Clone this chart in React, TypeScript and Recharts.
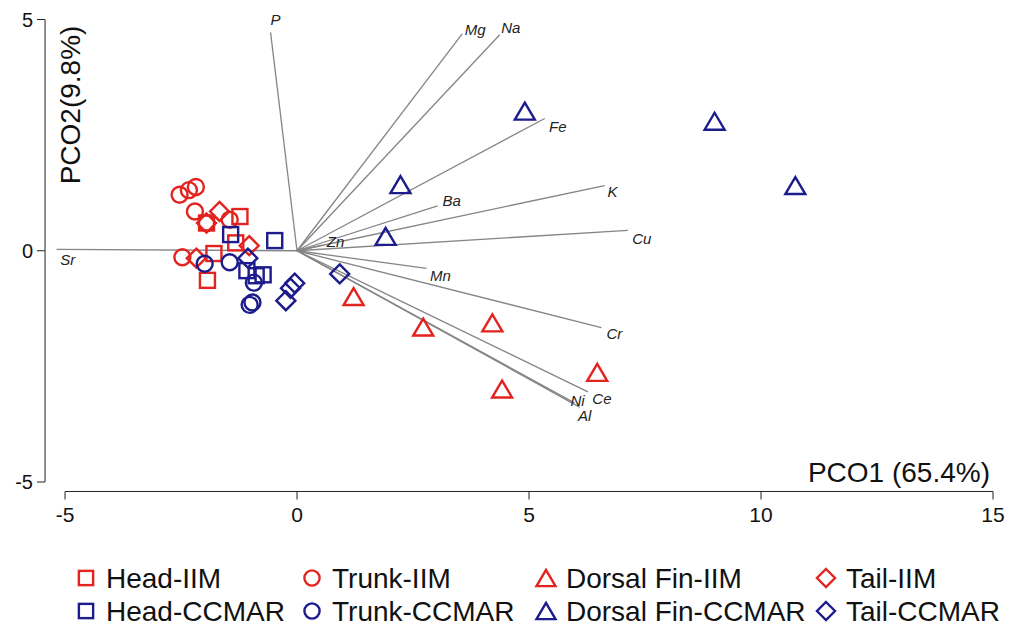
import { ScatterChart, Scatter, XAxis, YAxis, ReferenceLine, ReferenceDot, Customized } from 'recharts';

const RED = '#e3231f';
const BLUE = '#1c1c8c';
const FONT = '"Liberation Sans", Arial, sans-serif';

// sample scores (PCO1, PCO2)
const headIIM = [
  { x: -1.23, y: 0.74 }, { x: -1.32, y: 0.17 }, { x: -1.79, y: -0.06 },
  { x: -1.93, y: -0.64 }, { x: -1.95, y: 0.6 },
];
const trunkIIM = [
  { x: -2.53, y: 1.21 }, { x: -2.33, y: 1.31 }, { x: -2.18, y: 1.38 },
  { x: -2.2, y: 0.85 }, { x: -1.45, y: 0.67 }, { x: -2.47, y: -0.14 }, { x: -1.95, y: 0.6 },
];
const dorsalIIM = [
  { x: 1.22, y: -0.99 }, { x: 2.72, y: -1.65 }, { x: 4.21, y: -1.56 },
  { x: 4.42, y: -2.99 }, { x: 6.47, y: -2.63 },
];
const tailIIM = [
  { x: -1.67, y: 0.85 }, { x: -1.95, y: 0.6 }, { x: -1.03, y: 0.11 }, { x: -2.17, y: -0.16 },
];
const headCCMAR = [
  { x: -1.43, y: 0.35 }, { x: -0.48, y: 0.22 }, { x: -1.08, y: -0.43 },
  { x: -0.88, y: -0.54 }, { x: -0.73, y: -0.52 },
];
const trunkCCMAR = [
  { x: -1.99, y: -0.28 }, { x: -1.45, y: -0.25 }, { x: -0.93, y: -0.69 },
  { x: -1.02, y: -1.17 }, { x: -0.96, y: -1.12 },
];
const dorsalCCMAR = [
  { x: 4.91, y: 3.02 }, { x: 2.23, y: 1.43 }, { x: 1.91, y: 0.31 },
  { x: 9.0, y: 2.8 }, { x: 10.74, y: 1.41 },
];
const tailCCMAR = [
  { x: -1.06, y: -0.16 }, { x: -0.05, y: -0.7 }, { x: -0.14, y: -0.81 },
  { x: -0.24, y: -1.08 }, { x: 0.92, y: -0.5 },
];

// element vectors
const vectorNames = ['P', 'Mg', 'Na', 'Fe', 'K', 'Ba', 'Cu', 'Zn', 'Sr', 'Mn', 'Cr', 'Ce', 'Ni', 'Al'];
const vectorX = [-0.57, 3.56, 4.37, 5.34, 6.63, 3.03, 7.13, 0.55, -5.18, 2.79, 6.56, 6.27, 5.98, 6.09];
const vectorY = [4.72, 4.69, 4.67, 2.86, 1.41, 0.97, 0.44, 0.12, 0.03, -0.38, -1.66, -3.05, -3.29, -3.38];

const xTicks = [-5, 0, 5, 10, 15];
const yTicks = [-5, 0, 5];

// label placement relative to vector tips (px)
const labelOffset: Record<string, [number, number]> = {
  P: [5, -13], Mg: [13, -4], Na: [11, -7], Fe: [13, 8], K: [8, 6], Ba: [14, -5],
  Cu: [14, 8], Zn: [13, -4], Sr: [11, 10], Mn: [14, 7], Cr: [13, 6], Ce: [14, 7],
  Ni: [3, -2], Al: [5, 8],
};

type Kind = 'square' | 'circle' | 'triangle' | 'diamond';

const series = [
  { name: 'Head-IIM', data: headIIM, color: RED, kind: 'square' as Kind },
  { name: 'Trunk-IIM', data: trunkIIM, color: RED, kind: 'circle' as Kind },
  { name: 'Dorsal Fin-IIM', data: dorsalIIM, color: RED, kind: 'triangle' as Kind },
  { name: 'Tail-IIM', data: tailIIM, color: RED, kind: 'diamond' as Kind },
  { name: 'Head-CCMAR', data: headCCMAR, color: BLUE, kind: 'square' as Kind },
  { name: 'Trunk-CCMAR', data: trunkCCMAR, color: BLUE, kind: 'circle' as Kind },
  { name: 'Dorsal Fin-CCMAR', data: dorsalCCMAR, color: BLUE, kind: 'triangle' as Kind },
  { name: 'Tail-CCMAR', data: tailCCMAR, color: BLUE, kind: 'diamond' as Kind },
];

function drawMarker(kind: Kind, color: string, cx: number, cy: number, s = 1) {
  const common = { fill: 'none', stroke: color, strokeWidth: 2.4 };
  if (kind === 'square') {
    const h = 7.5 * s;
    return <rect x={cx - h} y={cy - h} width={2 * h} height={2 * h} {...common} />;
  }
  if (kind === 'circle') return <circle cx={cx} cy={cy} r={8 * s} {...common} />;
  if (kind === 'triangle') {
    const w = 10 * s;
    const h = 8.5 * s;
    return <polygon points={`${cx - w},${cy + h} ${cx + w},${cy + h} ${cx},${cy - h}`} {...common} />;
  }
  const d = 9.5 * s;
  return <polygon points={`${cx},${cy - d} ${cx + d},${cy} ${cx},${cy + d} ${cx - d},${cy}`} {...common} />;
}

const vectorTips = vectorNames.map((name, i) => ({ name, x: vectorX[i], y: vectorY[i] }));

const AxisTitles = () => (
  <g fontFamily={FONT} fill="#111">
    <text x={982} y={474} textAnchor="end" fontSize={28}>PCO1 (65.4%)</text>
    <text transform="translate(72,97) rotate(-90)" textAnchor="middle" fontSize={28}>PCO2(9.8%)</text>
  </g>
);

const colX = [78, 304, 538, 818];
const rowY = [570, 603];

const LegendBlock = () => (
  <g fontFamily={FONT} fill="#111">
    {series.map((s, i) => {
      const cx = colX[i % 4];
      const cy = rowY[Math.floor(i / 4)];
      return (
        <g key={s.name}>
          {drawMarker(s.kind, s.color, cx, cy, 0.95)}
          <text x={cx + 20} y={cy} dominantBaseline="central" fontSize={28}>{s.name}</text>
        </g>
      );
    })}
  </g>
);

export default function App() {
  return (
    <ScatterChart width={1011} height={619} margin={{ top: 11.5, right: 26, bottom: 105.5, left: 0 }}>
      <XAxis
        type="number"
        dataKey="x"
        domain={[-5, 15]}
        allowDataOverflow
        ticks={xTicks}
        padding={{ left: 20, right: 0 }}
        axisLine={false}
        tickLine={{ stroke: '#222', strokeWidth: 1 }}
        tickSize={8}
        tickMargin={8}
        height={30}
        tick={{ fontSize: 21, fill: '#111', fontFamily: FONT }}
      />
      <YAxis
        type="number"
        dataKey="y"
        domain={[-5, 5]}
        allowDataOverflow
        ticks={yTicks}
        padding={{ top: 0, bottom: 9.5 }}
        axisLine={false}
        tickLine={{ stroke: '#222', strokeWidth: 1 }}
        tickSize={8}
        tickMargin={4}
        width={37}
        tick={{ fontSize: 20, fill: '#111', fontFamily: FONT }}
      />
      <ReferenceLine
        segment={[{ x: -5, y: -5.205 }, { x: 15, y: -5.205 }]}
        stroke="#222"
        strokeWidth={1}
        ifOverflow="visible"
      />
      <ReferenceLine
        segment={[{ x: -5.43, y: -5 }, { x: -5.43, y: 5 }]}
        stroke="#222"
        strokeWidth={1}
        ifOverflow="visible"
      />
      {vectorTips.map((v) => (
        <ReferenceLine
          key={v.name}
          segment={[{ x: 0, y: 0 }, { x: v.x, y: v.y }]}
          stroke="#858585"
          strokeWidth={1.3}
          ifOverflow="visible"
        />
      ))}
      {vectorTips.map((v) => (
        <ReferenceDot
          key={`lab-${v.name}`}
          x={v.x}
          y={v.y}
          ifOverflow="visible"
          shape={(p: any) => {
            const [dx, dy] = labelOffset[v.name] ?? [0, 0];
            return (
              <text
                x={p.cx + dx}
                y={p.cy + dy}
                textAnchor="middle"
                dominantBaseline="central"
                fontSize={15}
                fontStyle="italic"
                fontFamily={FONT}
                fill="#222"
              >
                {v.name}
              </text>
            );
          }}
        />
      ))}
      {series.map((s) => (
        <Scatter
          key={s.name}
          name={s.name}
          data={s.data}
          isAnimationActive={false}
          shape={(p: any) => drawMarker(s.kind, s.color, p.cx, p.cy)}
        />
      ))}
      <Customized component={AxisTitles} />
      <Customized component={LegendBlock} />
    </ScatterChart>
  );
}
